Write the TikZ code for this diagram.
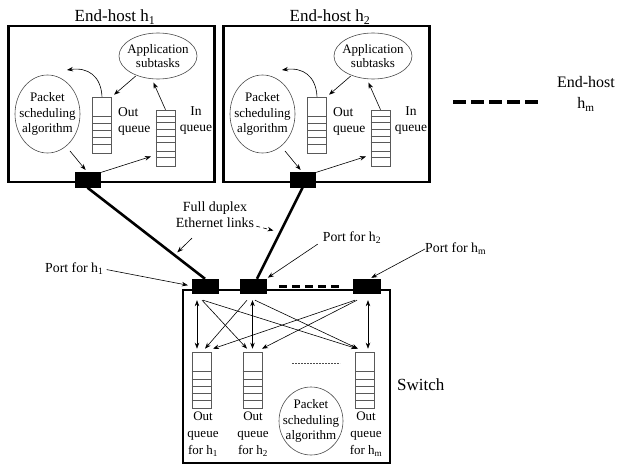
\documentclass[tikz,border=0pt]{standalone}
\usepackage{fontspec}
\setmainfont{Liberation Serif}
\usetikzlibrary{arrows.meta,shapes.geometric,calc}
\tikzset{
  hostbox/.style={draw, line width=2.6pt, inner sep=0pt},
  portbox/.style={fill=black, draw=black, minimum width=25pt, minimum height=15pt, inner sep=0pt},
  queuebox/.style={draw=black!65, line width=0.6pt, minimum width=19pt, minimum height=56pt, inner sep=0pt},
  slot/.style={draw=black!65, line width=0.6pt},
  oval/.style={draw=black!70, ellipse, line width=0.6pt, inner sep=0pt},
  txt/.style={inner sep=0pt, align=center, font=\fontsize{13}{15.5}\selectfont},
  qtxt/.style={inner sep=0pt, align=center, font=\fontsize{13}{17}\selectfont},
  ptxt/.style={inner sep=0pt, font=\fontsize{13.8}{16}\selectfont},
  titletxt/.style={inner sep=0pt, font=\fontsize{17}{21}\selectfont},
  arr/.style={-{Stealth[length=6pt,width=4.5pt]}, line width=0.6pt},
  darr/.style={{Stealth[length=6pt,width=4.5pt]}-{Stealth[length=6pt,width=4.5pt]}, line width=0.6pt},
  link/.style={line width=2.6pt},
  pdash/.style={line width=3pt, dash pattern=on 8pt off 5pt},
  hdash/.style={line width=3.5pt, dash pattern=on 13pt off 5pt},
  thindash/.style={line width=0.8pt, dash pattern=on 2pt off 1pt, draw=black!70},
}
\newcommand\hostparts[3]{%
\begin{scope}[xshift=#2pt]
  \node[hostbox, minimum width=206pt, minimum height=156pt] (#1box) at (111.5,104) {};
  \node[titletxt, anchor=base] (#1title) at (115,22) {End-host h\textsubscript{#3}};
  \node[oval, minimum width=78pt, minimum height=46pt] (#1app) at (158,56) {};
  \node[txt, font=\fontsize{13}{14.5}\selectfont] (#1appt) at (#1app.center) {Application\\subtasks};
  \node[oval, minimum width=65pt, minimum height=78pt] (#1pkt) at (47.5,114) {};
  \node[txt] (#1pktt) at (#1pkt.center) {Packet\\scheduling\\algorithm};
  \node[queuebox] (#1oq) at (102,125) {};
  \foreach \d in {20,27,34,41,48}
    \draw[slot] ([yshift=-\d pt]#1oq.north west) -- ([yshift=-\d pt]#1oq.north east);
  \node[queuebox] (#1iq) at (165.5,138) {};
  \foreach \d in {7,13,20,27,33,42,48}
    \draw[slot] ([yshift=-\d pt]#1iq.north west) -- ([yshift=-\d pt]#1iq.north east);
  \node[txt, align=left, anchor=west, font=\fontsize{13.5}{16}\selectfont] (#1oql) at (118,121) {Out\\queue};
  \node[txt, font=\fontsize{13.5}{16}\selectfont] (#1iql) at (196,121) {In\\queue};
  \node[portbox] (#1port) at (87.5,180) {};
  \coordinate (#1ce) at (67,70);
  \draw[arr] (#1oq.north) .. controls (101,76) and (88,67) .. (#1ce);
  \draw[arr, shorten <=1pt, shorten >=3pt] (#1app.222) -- (#1oq.north east);
  \draw[arr, shorten >=4pt] (#1iq.north) -- (#1app.255);
  \draw[arr, shorten <=6pt, shorten >=3pt] (#1pkt.300) -- (#1port.north);
  \draw[arr, shorten >=5pt] (#1port.30) -- (#1iq.240);
\end{scope}}
\begin{document}
\begin{tikzpicture}[x=1pt,y=-1pt]
\useasboundingbox (0,0) rectangle (618,468);
\hostparts{h1}{0}{1}
\hostparts{h2}{215}{2}

% end-host m
\node[titletxt, align=center, font=\fontsize{16}{21}\selectfont] (hm) at (586,94) {End-host\\h\textsubscript{m}};
\coordinate (hd1) at (453,102);
\coordinate (hd2) at (538,102);
\draw[hdash] (hd1) -- (hd2);

% switch
\node[hostbox, minimum width=207pt, minimum height=173pt] (sw) at (286.5,376.5) {};
\node[titletxt, anchor=west] (swl) at (397,385) {Switch};
\node[portbox, minimum width=26pt, minimum height=14pt] (sp1) at (205,286) {};
\node[portbox, minimum width=26pt, minimum height=14pt] (sp2) at (253,286) {};
\node[portbox, minimum width=27pt, minimum height=14pt] (spm) at (366.5,286) {};
\draw[pdash] ([xshift=13pt]sp2.east) -- ([xshift=-11pt]spm.west);

\node[queuebox] (q1) at (201.5,380) {};
\node[queuebox] (q2) at (252.5,380) {};
\node[queuebox] (qm) at (365,380) {};
\foreach \q in {q1,q2,qm}
  \foreach \d in {20,28,35,42,49}
    \draw[slot] ([yshift=-\d pt]\q.north west) -- ([yshift=-\d pt]\q.north east);

\node[qtxt] (q1l) at (203,434) {Out\\queue\\for h\textsubscript{1}};
\node[qtxt] (q2l) at (253,434) {Out\\queue\\for h\textsubscript{2}};
\node[qtxt] (qml) at (366,434) {Out\\queue\\for h\textsubscript{m}};

\node[oval, minimum width=64pt, minimum height=68pt] (swpkt) at (311,421) {};
\node[txt] (swpktt) at (swpkt.center) {Packet\\scheduling\\algorithm};

\coordinate (dl1) at (292,363);
\coordinate (dl2) at (340,363);
\draw[thindash] (dl1) -- (dl2);

% switch internal arrows
\draw[darr] ([xshift=-4.5pt,yshift=3pt]q1.north) -- ([xshift=-8pt,yshift=-7pt]sp1.south);
\draw[darr] ([yshift=3pt]q2.north) -- ([xshift=-0.5pt,yshift=-7pt]sp2.south);
\draw[darr] ([xshift=3pt,yshift=3pt]qm.north) -- ([xshift=1.5pt,yshift=-7pt]spm.south);
\draw[arr] ([xshift=-3pt,yshift=-7pt]sp1.south) -- ([xshift=-5.5pt,yshift=3pt]q2.north);
\draw[arr] ([xshift=-2pt,yshift=-7pt]sp1.south) -- ([xshift=-8pt,yshift=3pt]qm.north);
\draw[arr] ([xshift=-6pt,yshift=-7pt]sp2.south) -- ([xshift=3.5pt,yshift=3pt]q1.north);
\draw[arr] ([xshift=2pt,yshift=-7pt]sp2.south) -- ([xshift=-7pt,yshift=3pt]qm.north);
\draw[arr] ([xshift=-11.5pt,yshift=-7pt]spm.south) -- ([xshift=11.5pt,yshift=3pt]q1.north);
\draw[arr] ([xshift=-9.5pt,yshift=-7pt]spm.south) -- ([xshift=9.5pt,yshift=3pt]q2.north);

% links
\draw[link] (h1port.south) -- (sp1.north);
\draw[link] (h2port.south) -- ([xshift=4pt]sp2.north);

% link label
\node[txt, font=\fontsize{14}{16}\selectfont] (fd) at (215,215) {Full duplex\\Ethernet links};
\coordinate (l1m) at ($(h1port.south)!0.74!(sp1.north)$);
\coordinate (l2m) at ($(h2port.south)!0.49!([xshift=4pt]sp2.north)$);
\draw[arr, shorten >=4pt] ([xshift=-23pt,yshift=-10pt]fd.south) -- (l1m);
\draw[arr, dash pattern=on 4pt off 3pt, shorten >=7pt] ([xshift=2pt,yshift=2pt]fd.south east) -- (l2m);

% port labels
\node[ptxt, anchor=west] (pl1) at (45,269) {Port for h\textsubscript{1}};
\draw[arr, shorten <=3pt, shorten >=4pt] (pl1.east) -- (sp1.west);
\node[ptxt] (pl2) at (352,238) {Port for h\textsubscript{2}};
\draw[arr, shorten >=2pt] ([xshift=-5pt]pl2.south west) -- (sp2.north east);
\node[ptxt, anchor=west] (plm) at (425,249) {Port for h\textsubscript{m}};
\draw[arr, shorten >=2pt] (plm.west) -- ([xshift=3pt]spm.north);
\end{tikzpicture}
\end{document}
